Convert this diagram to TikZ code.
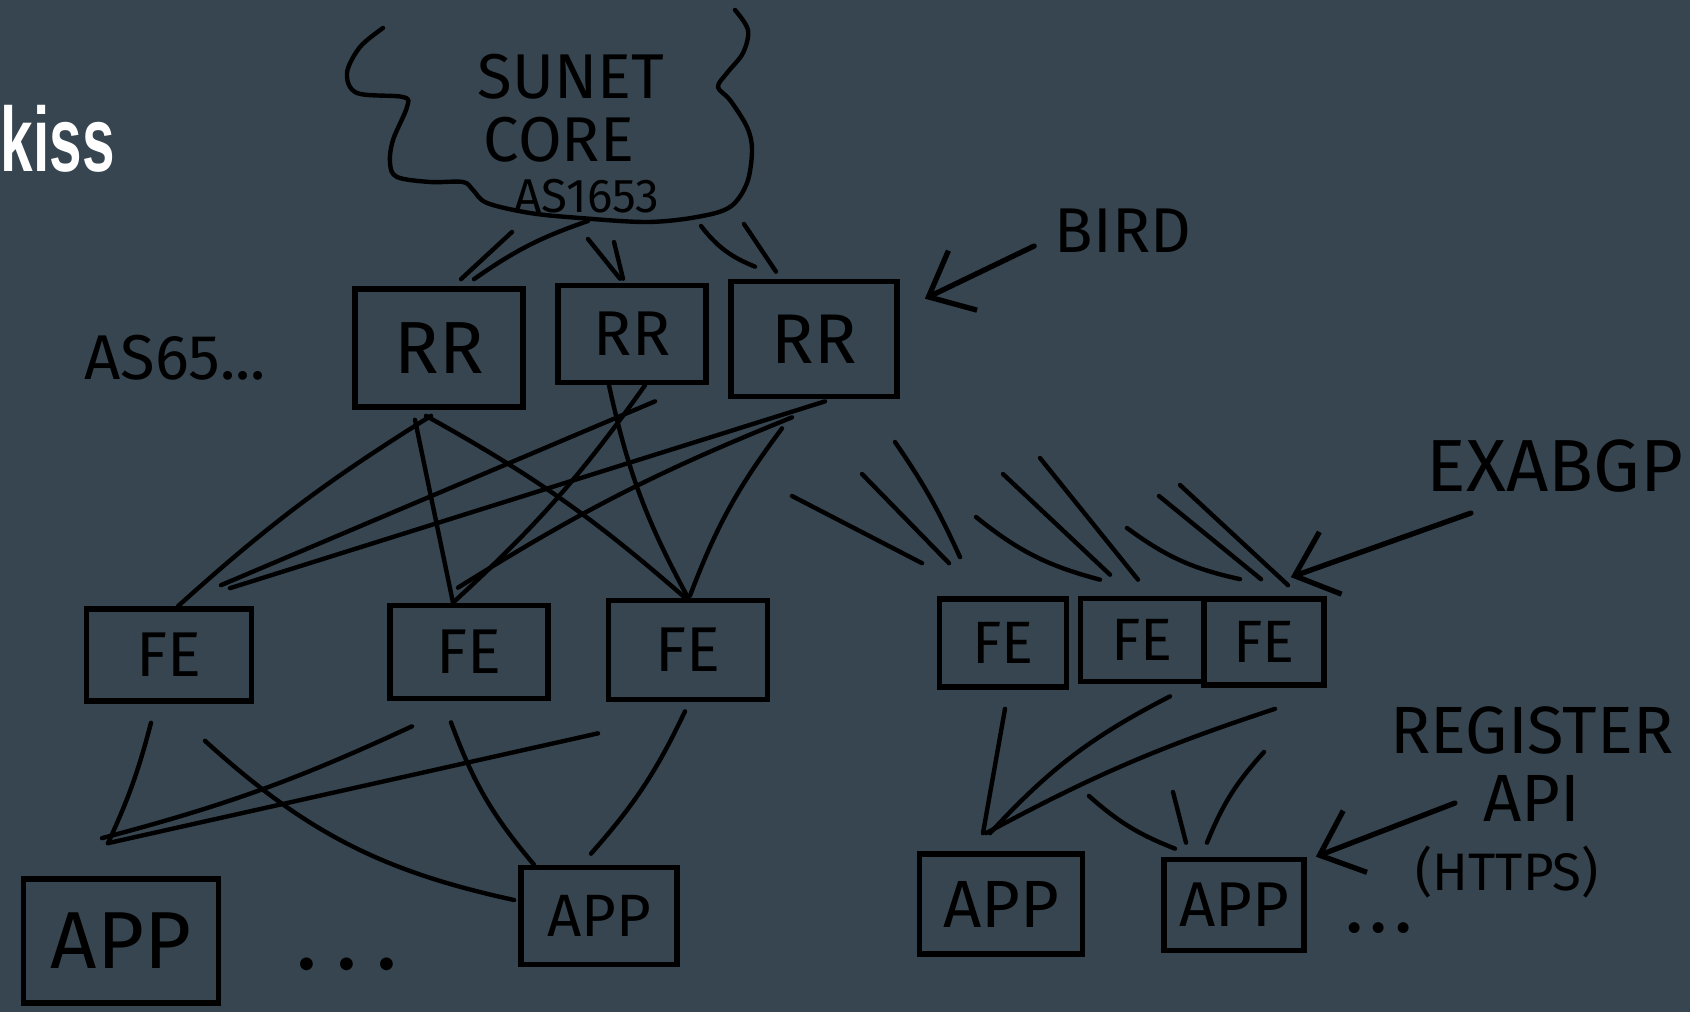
\documentclass[tikz,border=0pt]{standalone}
\usepackage{fontspec}
\setmainfont{Fira Sans}
\newfontfamily\titlefont{Liberation Sans}
\usetikzlibrary{arrows.meta,calc}
\definecolor{slate}{RGB}{54,69,79}

\begin{document}
\begin{tikzpicture}[
x=0.01cm, y=-0.01cm,
pen/.style={
line width=1.25pt,
line cap=round,
line join=round
},
rect/.style={
draw,
line width=1.6pt,
inner sep=0pt,
font=\fontsize{18}{18}\selectfont
},
hand/.style={
inner sep=0pt,
font=\fontsize{17}{17}\selectfont
},
tight/.style={
hand, anchor=base,
text height=0.7em, text depth=0pt
},
barb/.style={
pen, line width=1.5pt,
-{Straight Barb[length=0.38cm, width=0.66cm]}
}
]
\fill[slate] (0,0) rectangle (1690,1012);
\useasboundingbox (0,0) rectangle (1690,1012);

\node[anchor=base west, inner sep=0pt, text=white, font=\titlefont\bfseries\fontsize{26}{26}\selectfont] (kiss) at (0,171) {\scalebox{0.64}[1]{kiss}};

% core cloud
\draw[pen] plot[smooth, tension=0.55] coordinates {
(383,28) (360,47) (347,73) (357,93) (403,97) (407,107) (393,140)
(390,163) (397,177) (430,182) (463,182) (473,190) (487,203)
(530,213) (580,218) (647,222) (697,217) (730,207) (747,183)
(752,150) (747,127) (730,100) (718,87) (727,73) (743,53)
(748,30) (735,10)};
\node[tight, font=\fontsize{18}{18}\selectfont] (sunet) at (571,98) {SUNET};
\node[tight, font=\fontsize{18}{18}\selectfont] (core) at (559,161) {CORE};
\node[tight, font=\fontsize{13.5}{14}\selectfont] (asnum) at (587,212) {AS1653};

% route reflectors
\node[rect, minimum width=1.68cm, minimum height=1.18cm, font=\fontsize{21}{21}\selectfont] (r1) at (439,348) {RR};
\node[rect, minimum width=1.48cm, minimum height=0.97cm, font=\fontsize{18}{18}\selectfont] (r2) at (632,334) {RR};
\node[rect, minimum width=1.66cm, minimum height=1.15cm, font=\fontsize{20}{20}\selectfont] (r3) at (814,339) {RR};

\node[hand, font=\fontsize{18}{18}\selectfont] (asn) at (175,358) {AS65...};
\node[hand, font=\fontsize{18}{18}\selectfont] (bird) at (1123,231) {BIRD};
\draw[barb] ($(bird.west)+(-20,15)$) -- ($(r3.north east)+(25,20)$);

% frontends
\node[rect, minimum width=1.65cm, minimum height=0.92cm] (f1) at (169,655) {FE};
\node[rect, minimum width=1.58cm, minimum height=0.93cm] (f2) at (469,652) {FE};
\node[rect, minimum width=1.59cm, minimum height=0.99cm] (f3) at (688,650) {FE};
\node[rect, minimum width=1.27cm, minimum height=0.88cm, font=\fontsize{17}{17}\selectfont] (f4) at (1003,643) {FE};
\node[rect, minimum width=1.23cm, minimum height=0.83cm, font=\fontsize{17}{17}\selectfont] (f5) at (1142,640) {FE};
\node[rect, minimum width=1.20cm, minimum height=0.86cm, font=\fontsize{17}{17}\selectfont] (f6) at (1264,642) {FE};

% apps
\node[rect, minimum width=1.95cm, minimum height=1.24cm, font=\fontsize{23}{23}\selectfont] (a1) at (121,941) {APP};
\node[rect, minimum width=1.56cm, minimum height=0.97cm, font=\fontsize{17}{17}\selectfont] (a2) at (599,916) {APP};
\node[rect, minimum width=1.63cm, minimum height=1.00cm, font=\fontsize{19}{19}\selectfont] (a3) at (1001,904) {APP};
\node[rect, minimum width=1.40cm, minimum height=0.91cm, font=\fontsize{18}{18}\selectfont] (a4) at (1234,905) {APP};

\node[hand, font=\bfseries\fontsize{20}{20}\selectfont] (dots1) at (347,964) {.\,\,.\,\,.};
\node[hand, font=\bfseries\fontsize{17}{17}\selectfont] (dots2) at (1379,928) {.\,.\,.};

\node[hand, font=\fontsize{21}{21}\selectfont] (exa) at (1555,466) {EXABGP};
\draw[barb] ($(exa.south)+(-84,20)$) -- ($(f6.north east)+(-36,-19)$);

\node[hand, align=center, font=\fontsize{19}{19.5}\selectfont] (reg) at (1532,802) {REGISTER\\API\\{\fontsize{15}{15}\selectfont(HTTPS)}\hspace*{0.5cm}};
\draw[barb] ($(reg.center)+(-77,1)$) -- ($(a4.north east)+(9,0)$);

% core to reflectors
\coordinate (c1) at (512,232);
\coordinate (c2) at (588,221);
\coordinate (c3) at (588,239);
\coordinate (c4) at (614,242);
\coordinate (c5) at (701,226);
\coordinate (c6) at (744,224);
\draw[pen] (c1) -- ($(r1.north)+(22,-7)$);
\draw[pen] (c2) to[bend right=8] ($(r1.north)+(35,-7)$);
\draw[pen] (c3) -- ($(r2.north)+(-12,-4)$);
\draw[pen] (c4) -- ($(r2.north)+(-9,-4)$);
\draw[pen] (c5) to[bend right=15] ($(r3.north)+(-59,-12)$);
\draw[pen] (c6) -- ($(r3.north)+(-38,-7)$);

% reflectors to frontends
\draw[pen] ($(r1.south)+(-8,6)$) to[bend right=5] ($(f1.north)+(9,0)$);
\draw[pen] ($(r1.south)+(-24,10)$) -- ($(f2.north)+(-16,0)$);
\draw[pen] ($(r1.south)+(-13,6)$) to[bend left=6] ($(f3.north)+(-3,0)$);
\draw[pen] ($(r2.south)+(13,0)$) to[bend left=6] ($(f2.north)+(-16,0)$);
\draw[pen] ($(r2.south)+(-23,0)$) to[bend right=8] ($(f3.north)+(0,0)$);
\draw[pen] ($(r2.south)+(23,16)$) -- ($(f1.north)+(52,-21)$);
\draw[pen] ($(r3.south)+(11,2)$) -- ($(f1.north)+(61,-18)$);
\draw[pen] ($(r3.south)+(-22,18)$) to[bend right=5] ($(f2.north)+(-11,-15)$);
\draw[pen] ($(r3.south)+(-32,29)$) to[bend right=8] ($(f3.north)+(2,-2)$);

% reflectors to the right frontends
\coordinate (s1) at (792,496);
\coordinate (s2) at (862,474);
\coordinate (s3) at (895,442);
\coordinate (s4) at (976,517);
\coordinate (s5) at (1003,474);
\coordinate (s6) at (1040,458);
\coordinate (s7) at (1127,528);
\coordinate (s8) at (1159,496);
\coordinate (s9) at (1180,485);
\draw[pen] (s1) -- ($(f4.north)+(-81,-33)$);
\draw[pen] (s2) -- ($(f4.north)+(-54,-33)$);
\draw[pen] (s3) to[bend left=5] ($(f4.north)+(-43,-39)$);
\draw[pen] (s4) to[bend right=12] ($(f5.north)+(-42,-16)$);
\draw[pen] (s5) -- ($(f5.north)+(-32,-21)$);
\draw[pen] (s6) -- ($(f5.north)+(-4,-16)$);
\draw[pen] (s7) to[bend right=12] ($(f6.north)+(-24,-17)$);
\draw[pen] (s8) -- ($(f6.north)+(-3,-17)$);
\draw[pen] (s9) -- ($(f6.north)+(24,-11)$);

% frontends to apps
\draw[pen] ($(f1.south)+(-18,19)$) to[bend left=5] ($(a1.north)+(-13,-33)$);
\draw[pen] ($(f1.south)+(36,37)$) to[bend right=15] ($(a2.west)+(-4,-16)$);
\draw[pen] ($(f2.south)+(-57,25)$) to[bend left=5] ($(a1.north)+(-19,-38)$);
\draw[pen] ($(f2.south)+(-18,21)$) to[bend right=10] ($(a2.north)+(-65,0)$);
\draw[pen] ($(f3.south)+(-90,31)$) -- ($(a1.north)+(-13,-33)$);
\draw[pen] ($(f3.south)+(-3,9)$) to[bend left=8] ($(a2.north)+(-8,-11)$);

\draw[pen] ($(f4.south)+(2,19)$) -- ($(a3.north)+(-18,-18)$);
\draw[pen] ($(f5.south)+(28,12)$) to[bend right=10] ($(a3.north)+(-11,-18)$);
\draw[pen] ($(f6.south)+(11,21)$) to[bend right=5] ($(a3.north)+(-15,-18)$);
\coordinate (t1) at (1089,796);
\coordinate (t2) at (1173,792);
\coordinate (t3) at (1264,752);
\draw[pen] (t1) to[bend right=10] ($(a4.north)+(-59,-8)$);
\draw[pen] (t2) -- ($(a4.north)+(-48,-14)$);
\draw[pen] (t3) to[bend right=10] ($(a4.north)+(-27,-14)$);

\end{tikzpicture}
\end{document}
